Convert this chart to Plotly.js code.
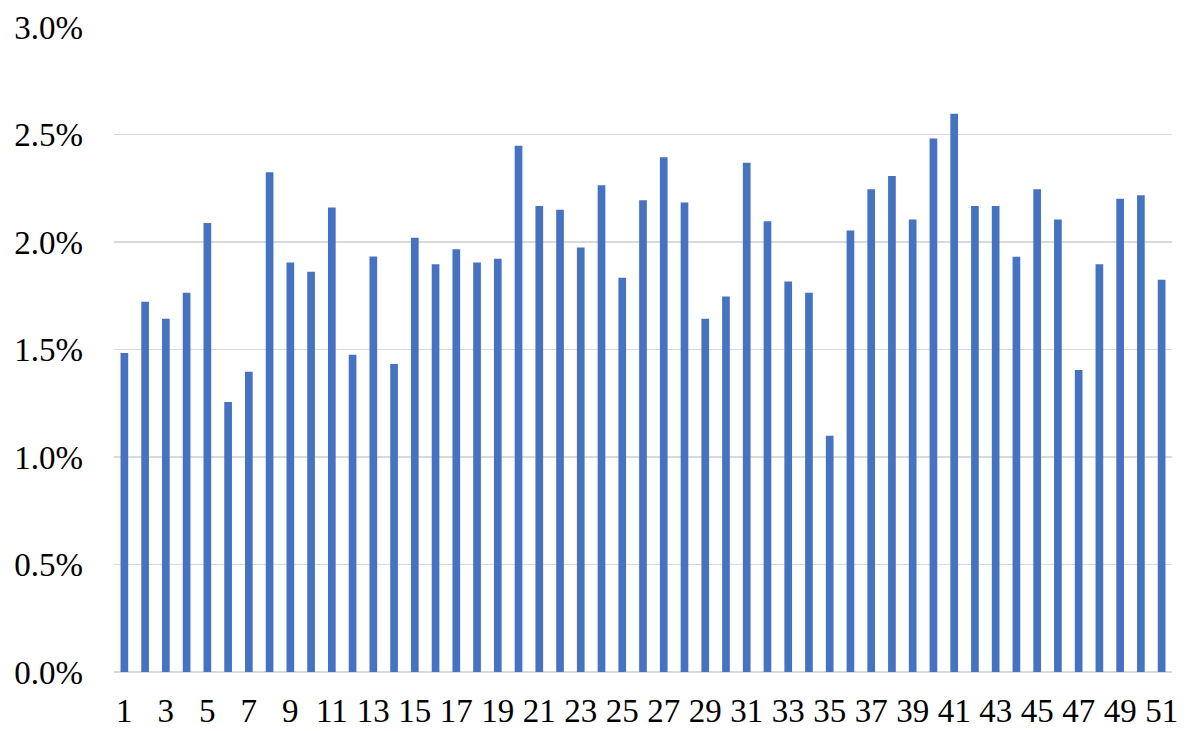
<!DOCTYPE html>
<html>
<head>
<meta charset="utf-8">
<script src="https://cdn.plot.ly/plotly-3.0.1.min.js"></script>
<style>
  html, body { margin: 0; padding: 0; background: #ffffff; }
  #chart { width: 1187px; height: 731px; }
</style>
</head>
<body>
<div id="chart"></div>
<script>
// Category numbers 1..51
const categories = [
  1, 2, 3, 4, 5, 6, 7, 8, 9, 10,
  11, 12, 13, 14, 15, 16, 17, 18, 19, 20,
  21, 22, 23, 24, 25, 26, 27, 28, 29, 30,
  31, 32, 33, 34, 35, 36, 37, 38, 39, 40,
  41, 42, 43, 44, 45, 46, 47, 48, 49, 50, 51
];

// Values in percent
const valuesPct = [
  1.484, 1.722, 1.643, 1.764, 2.088, 1.256, 1.396, 2.324, 1.905, 1.862,
  2.160, 1.476, 1.933, 1.433, 2.020, 1.896, 1.966, 1.905, 1.922, 2.448,
  2.167, 2.150, 1.975, 2.264, 1.834, 2.194, 2.394, 2.184, 1.643, 1.747,
  2.369, 2.097, 1.816, 1.764, 1.099, 2.053, 2.245, 2.307, 2.105, 2.481,
  2.596, 2.167, 2.167, 1.931, 2.245, 2.105, 1.405, 1.896, 2.201, 2.218, 1.824
];

// Tick labels shown on the x axis (odd categories)
const xTickVals = categories.filter(c => c % 2 === 1);
const xTickText = xTickVals.map(String);

const yTickVals = [0, 0.005, 0.01, 0.015, 0.02, 0.025, 0.03];
const yTickText = ['0.0%', '0.5%', '1.0%', '1.5%', '2.0%', '2.5%', '3.0%'];

const values = valuesPct.map(v => v / 100);

const trace = {
  type: 'bar',
  x: categories,
  y: values,
  marker: { color: '#4472C4', line: { width: 0 } },
  hoverinfo: 'x+y'
};

const fontFam = '"Liberation Serif", "Times New Roman", serif';

const layout = {
  width: 1187,
  height: 731,
  margin: { l: 114, r: 15, t: 27, b: 59 },
  paper_bgcolor: '#ffffff',
  plot_bgcolor: '#ffffff',
  showlegend: false,
  bargap: 0.63,
  font: { family: fontFam, size: 33, color: '#000000' },
  xaxis: {
    range: [0.5, 51.5],
    tickmode: 'array',
    tickvals: xTickVals,
    ticktext: xTickText,
    showgrid: false,
    zeroline: false,
    showline: false,
    ticks: '',
    ticklabelstandoff: 16,
    tickfont: { family: fontFam, size: 33, color: '#000000' },
    fixedrange: true
  },
  yaxis: {
    range: [0, 0.03],
    tickmode: 'array',
    tickvals: yTickVals,
    ticktext: yTickText,
    showgrid: true,
    gridcolor: '#d9d9d9',
    gridwidth: 1.3,
    zeroline: true,
    zerolinecolor: '#d9d9d9',
    zerolinewidth: 1.3,
    showline: false,
    ticks: '',
    ticklabelstandoff: 30,
    tickfont: { family: fontFam, size: 33, color: '#000000' },
    fixedrange: true
  }
};

Plotly.newPlot('chart', [trace], layout, { displayModeBar: false, staticPlot: true });
</script>
</body>
</html>
